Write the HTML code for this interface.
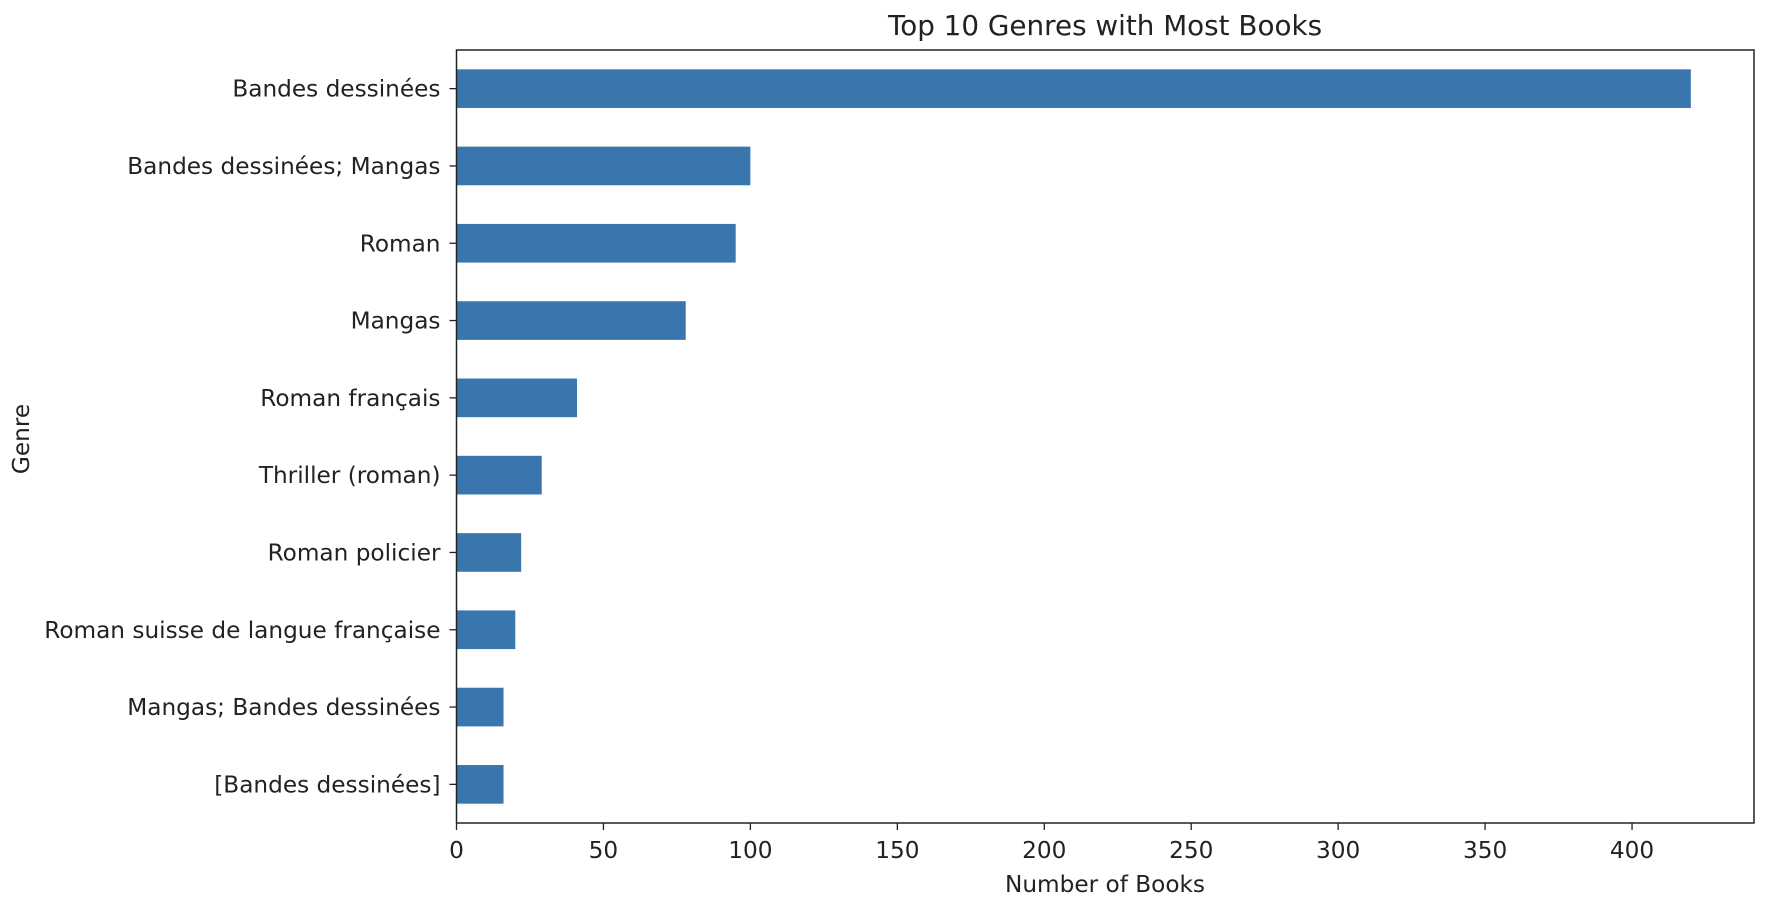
<!DOCTYPE html>
<html><head><meta charset="utf-8"><style>
html,body{margin:0;padding:0;background:#fff;}
svg text{font-family:"DejaVu Sans","Liberation Sans",sans-serif;fill:#222;}
</style></head><body>
<svg id="chart" width="1766" height="908" viewBox="0 0 1766 908" xmlns="http://www.w3.org/2000/svg">
<rect width="1766" height="908" fill="#fff"/>
<text x="1105" y="35" font-size="27.8" text-anchor="middle">Top 10 Genres with Most Books</text>
<g id="bars"></g>
<g id="axes"></g>
<text x="1105" y="892" font-size="23.2" text-anchor="middle">Number of Books</text>
<text transform="translate(29,439) rotate(-90)" font-size="23.2" text-anchor="middle">Genre</text>
</svg>
<script>
const categories = ["Bandes dessinées","Bandes dessinées; Mangas","Roman","Mangas","Roman français","Thriller (roman)","Roman policier","Roman suisse de langue française","Mangas; Bandes dessinées","[Bandes dessinées]"];
const values = [420,100,95,78,41,29,22,20,16,16];
const xTicks = [0,50,100,150,200,250,300,350,400];

const L=456.5,R=1754,T=50,B=823,XMAX=441.5;
const NS="http://www.w3.org/2000/svg";
function xs(v){return L+(v/XMAX)*(R-L);}
const pitch=(B-T)/categories.length;
function yc(i){return T+pitch*(i+0.5);}
const bars=document.getElementById('bars'),axes=document.getElementById('axes');
function mk(tag,attrs,parent){const e=document.createElementNS(NS,tag);for(const k in attrs)e.setAttribute(k,attrs[k]);parent.appendChild(e);return e;}
categories.forEach((c,i)=>{
  const r=mk('rect',{x:xs(0),y:yc(i)-pitch*0.25,width:xs(values[i])-xs(0),height:pitch*0.5,fill:'#3a76ae'},bars);
  
  
  const tk=mk('line',{x1:L-7,x2:L,y1:yc(i),y2:yc(i),stroke:'#222','stroke-width':1.3},axes);
  
  
  const t=mk('text',{x:L-16,y:yc(i)+8,'font-size':23.2,'text-anchor':'end'},axes);
  t.textContent=c;
  
  
});
xTicks.forEach(v=>{
  const tk=mk('line',{x1:xs(v),x2:xs(v),y1:B,y2:B+7,stroke:'#222','stroke-width':1.3},axes);
  
  
  const t=mk('text',{x:xs(v),y:B+35,'font-size':23.2,'text-anchor':'middle'},axes);
  t.textContent=v;
  
  
});
const fr=mk('rect',{x:L,y:T,width:R-L,height:B-T,fill:'none',stroke:'#222','stroke-width':1.5},axes);


</script>
</body></html>
